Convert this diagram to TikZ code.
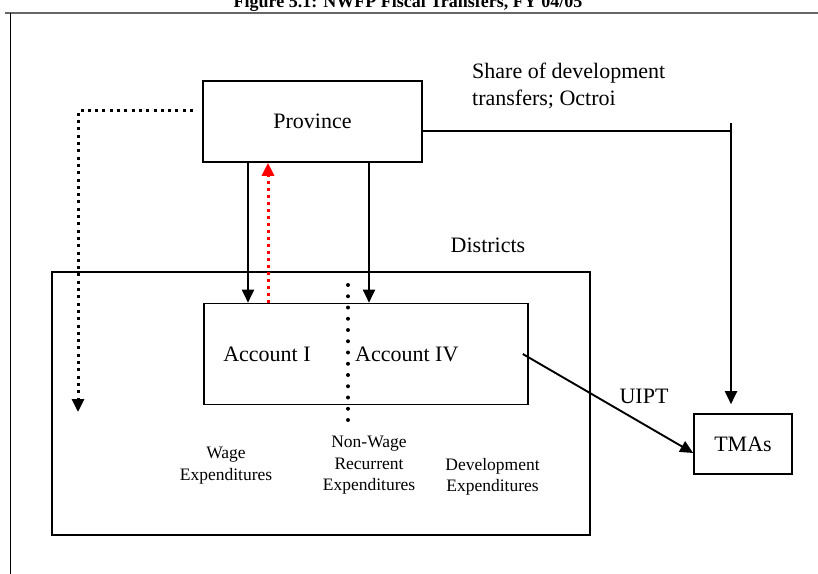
\documentclass[tikz,border=0pt]{standalone}
\usepackage{fontspec}
\setmainfont{Liberation Serif}
\usetikzlibrary{arrows.meta}
\tikzset{
  box/.style={draw,line width=1.6bp,inner sep=0pt},
  arr/.style={line width=1.9bp,-{Triangle[length=13bp,width=12bp]}},
  dotarr/.style={line width=3bp,dash pattern=on 3bp off 4.3bp,-{Triangle[length=13bp,width=12bp]}},
  lbl/.style={inner sep=0pt,font=\fontsize{22bp}{27bp}\selectfont},
  small/.style={inner sep=0pt,align=center,font=\fontsize{17.5bp}{21.5bp}\selectfont},
}
\begin{document}
\begin{tikzpicture}[x=1bp,y=-1bp]
\useasboundingbox (0,0) rectangle (818,574);
\clip (0,0) rectangle (818,574);
% title, cut off at the top
\node[anchor=base,inner sep=0pt,font=\fontsize{18bp}{22bp}\selectfont\bfseries] (title) at (408,7.5) {Figure 5.1: NWFP Fiscal Transfers, FY 04/05};
% frame
\draw[black!60,line width=2bp] (5,13) -- (818,13);
\draw[line width=1bp] (10,13) -- (10,574);
% boxes
\node[box,lbl,minimum width=219bp,minimum height=81bp] (prov) at (312.5,121.5) {Province};
\node[draw,line width=1.4bp,minimum width=538bp,minimum height=263bp] (dist) at (321,403.5) {};
\node[box,minimum width=324bp,minimum height=101bp] (acct) at (366,354) {};
\node[box,lbl,minimum width=98bp,minimum height=60bp] (tma) at (743,444) {TMAs};
% labels
\node[lbl,anchor=base] (distlbl) at (488,252) {Districts};
\node[lbl,anchor=base] (acctI) at (267,361) {Account I};
\node[lbl,anchor=base west] (acctIV) at (355,361) {Account IV};
\node[lbl,anchor=north west,align=left] (share) at (472,63) {Share of development\\transfers; Octroi};
\node[lbl,anchor=base] (uipt) at (644,403) {UIPT};
\node[small,anchor=north] (wage) at (226,447) {Wage\\Expenditures};
\node[small,anchor=north] (nonwage) at (369,436) {Non-Wage\\Recurrent\\Expenditures};
\node[small,anchor=north] (devexp) at (492.5,458) {Development\\Expenditures};
% divider between accounts
\draw[line width=4bp,line cap=round,dash pattern=on 0bp off 11.25bp] (348,285) -- (348,421);
% transfers
\draw[arr] (prov.south -| 248,0) -- (acct.north -| 248,0);
\draw[arr] (prov.south -| 369,0) -- (acct.north -| 369,0);
\draw[arr,red,line width=3bp,dash pattern=on 3bp off 4bp] (acct.north -| 268,0) -- (prov.south -| 268,0);
\coordinate (dstart) at (193,111);
\coordinate (dend) at (78,412);
\draw[dotarr] (dstart) -| (dend);
\draw[line width=1.9bp] (prov.east |- 0,131) -- (731,131);
\coordinate (share top) at (731,123);
\draw[arr,shorten >=9bp] (share top) -- (tma.north -| 731,0);
\draw[arr] ([xshift=-6bp]acct.east) -- ([yshift=-9bp]tma.west);
\end{tikzpicture}
\end{document}
